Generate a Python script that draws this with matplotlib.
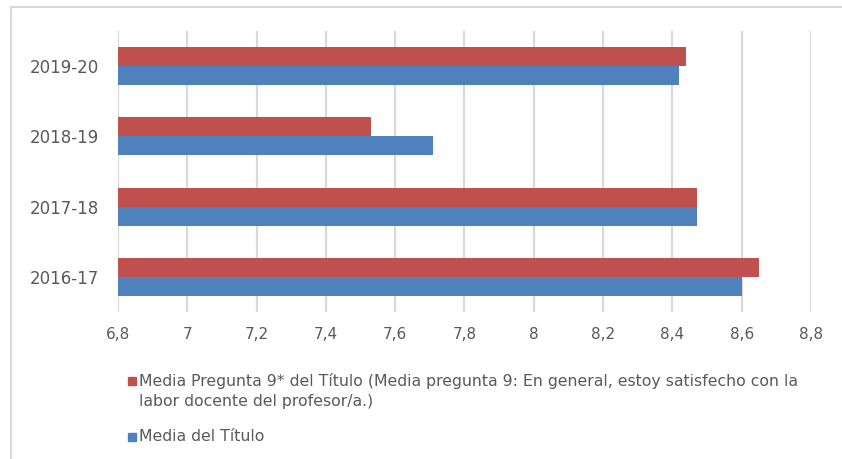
import matplotlib
matplotlib.use("Agg")
import matplotlib.pyplot as plt
from matplotlib.patches import Rectangle
from matplotlib.lines import Line2D
import numpy as np

# datos
cursos = ["2016-17", "2017-18", "2018-19", "2019-20"]
media_pregunta9 = [8.65, 8.47, 7.53, 8.44]
media_titulo = [8.60, 8.47, 7.71, 8.42]
xticks = [6.8, 7.0, 7.2, 7.4, 7.6, 7.8, 8.0, 8.2, 8.4, 8.6, 8.8]
xtick_labels = ["6,8", "7", "7,2", "7,4", "7,6", "7,8", "8", "8,2", "8,4", "8,6", "8,8"]
leyenda = [
    "Media Pregunta 9* del Título (Media pregunta 9: En general, estoy satisfecho con la\nlabor docente del profesor/a.)",
    "Media del Título",
]

rojo = "#C0504D"
azul = "#4F81BD"
gris_txt = "#595959"
gris_grid = "#D9D9D9"

fig = plt.figure(figsize=(8.42, 4.59), dpi=100)
ax = fig.add_axes([118 / 842, 1 - 312 / 459, (811 - 118) / 842, (312 - 31) / 459])

y = np.arange(len(cursos))
h = 0.27
ax.barh(y + h / 2, np.array(media_pregunta9) - 6.8, left=6.8, height=h, color=rojo, zorder=3)
ax.barh(y - h / 2, np.array(media_titulo) - 6.8, left=6.8, height=h, color=azul, zorder=3)

ax.set_xlim(6.8, 8.8)
ax.set_ylim(-0.5, len(cursos) - 0.5)
ax.set_xticks(xticks)
ax.set_xticklabels(xtick_labels)
ax.set_yticks(y)
ax.set_yticklabels(cursos)
ax.grid(axis="x", color=gris_grid, linewidth=1.6, zorder=0)
for s in ax.spines.values():
    s.set_visible(False)
ax.tick_params(axis="x", length=0, pad=11, labelsize=11, labelcolor=gris_txt)
ax.tick_params(axis="y", length=0, pad=14, labelsize=12, labelcolor=gris_txt)

# borde del gráfico
fig.add_artist(Line2D([11 / 842, 11 / 842], [0, 1 - 7 / 459], transform=fig.transFigure,
                      color=gris_grid, linewidth=1.5))
fig.add_artist(Line2D([11 / 842, 1], [1 - 7 / 459, 1 - 7 / 459], transform=fig.transFigure,
                      color=gris_grid, linewidth=1.5))

# leyenda
colores = [rojo, azul]
ys = [381, 437]
for col, txt, yy in zip(colores, leyenda, ys):
    fig.add_artist(Rectangle((128 / 842, 1 - (yy + 4) / 459), 8 / 842, 8 / 459,
                             transform=fig.transFigure, color=col))
    fig.text(139 / 842, 1 - (yy - 8) / 459, txt, ha="left", va="top", color=gris_txt,
             fontsize=11.3, family=["DejaVu Sans"], linespacing=1.4)

fig.savefig("out.png", dpi=100)
